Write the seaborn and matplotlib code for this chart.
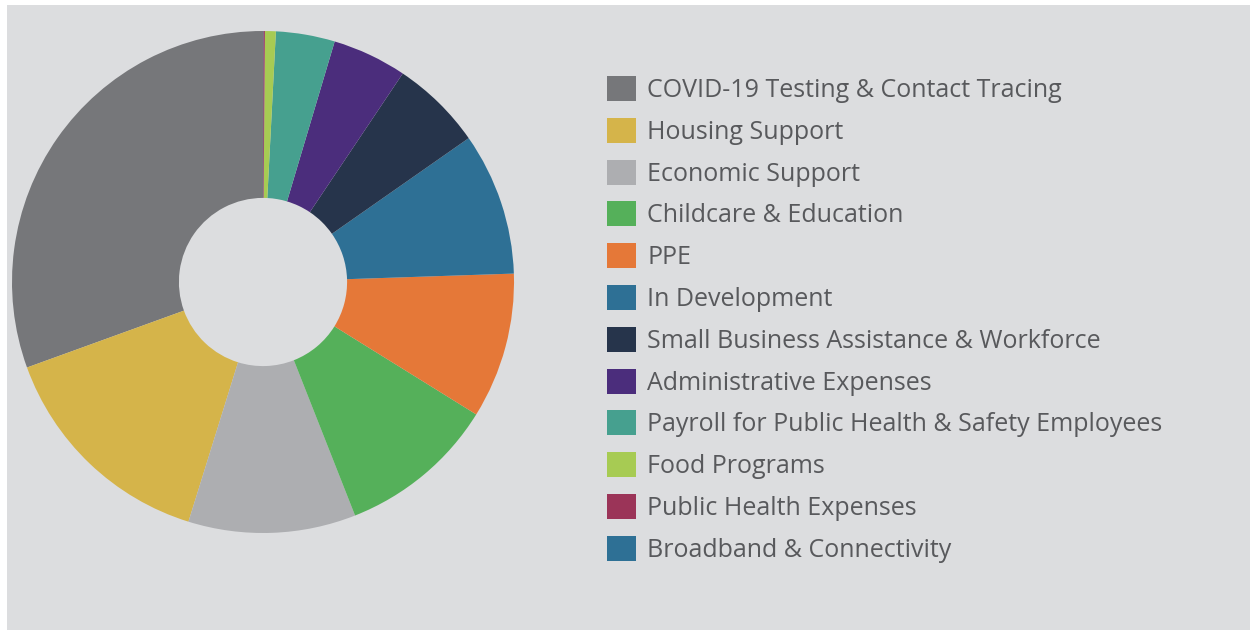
import matplotlib
matplotlib.use("Agg")
import matplotlib.pyplot as plt
from matplotlib.patches import Rectangle
import seaborn as sns

# Dữ liệu (phần trăm ước lượng)
categories = [
    "COVID-19 Testing & Contact Tracing",
    "Housing Support",
    "Economic Support",
    "Childcare & Education",
    "PPE",
    "In Development",
    "Small Business Assistance & Workforce",
    "Administrative Expenses",
    "Payroll for Public Health & Safety Employees",
    "Food Programs",
    "Public Health Expenses",
    "Broadband & Connectivity",
]
values = [30.6, 14.7, 10.8, 10.2, 9.4, 9.2, 5.9, 4.8, 3.8, 0.7, 0.1, 0.02]
colors = [
    "#76777a", "#d5b44a", "#adaeb1", "#55b05a", "#e57838", "#2e7095",
    "#26344b", "#4b2d7c", "#46a08f", "#a7cb53", "#9b3458", "#2e7095",
]

sns.set_theme(style="white")
plt.rcParams["font.family"] = ["Open Sans", "DejaVu Sans"]

W, H = 1250, 631
fig = plt.figure(figsize=(W / 100, H / 100), dpi=100)
fig.patch.set_facecolor("white")
fig.patches.append(Rectangle((7 / W, 1 / H), 1 - 7 / W, 625 / H,
                             transform=fig.transFigure, facecolor="#dcdddf",
                             edgecolor="none", zorder=-10))

# Vòng tròn donut
cx, cy, r = 263, 282, 251
ax = fig.add_axes([(cx - r) / W, (H - cy - r) / H, 2 * r / W, 2 * r / H])
ax.set_facecolor("none")
wedges, _ = ax.pie(values, colors=colors, startangle=90, counterclock=True,
                   radius=1, wedgeprops=dict(width=1 - 0.335, linewidth=0))
ax.set_xlim(-1, 1)
ax.set_ylim(-1, 1)
ax.set_aspect("equal")
ax.axis("off")

# Chú thích
leg = fig.legend(wedges, categories, loc="upper left",
                 bbox_to_anchor=(607 / W, 1 - 76 / H), frameon=False,
                 fontsize=18, handlelength=1.16, handleheight=1.16,
                 handletextpad=0.44, labelspacing=0.594, borderpad=0,
                 borderaxespad=0)
for t in leg.get_texts():
    t.set_color("#58595c")

fig.savefig("out.png", dpi=100)
